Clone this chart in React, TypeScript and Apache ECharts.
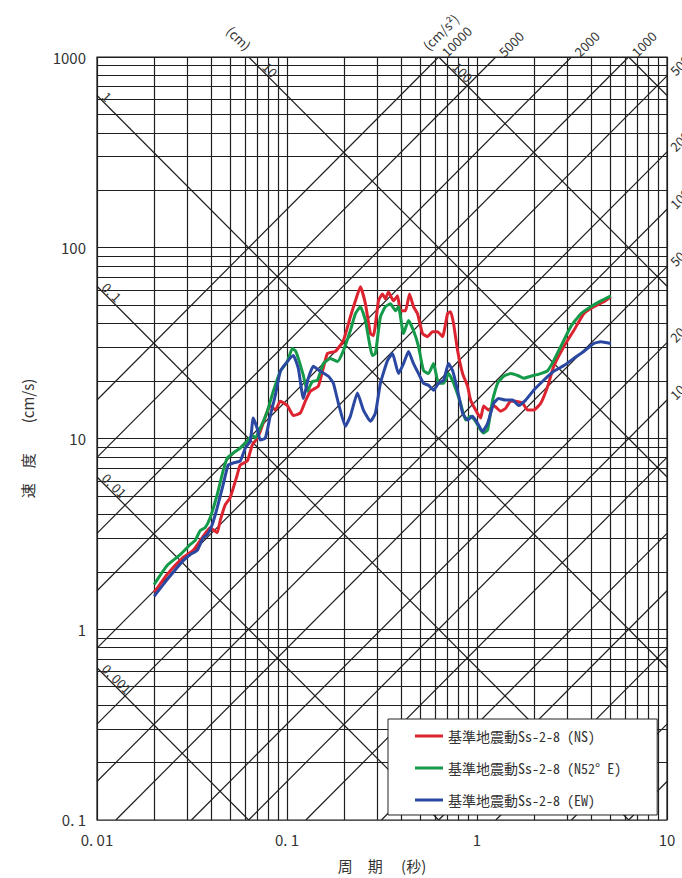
import React, { useEffect, useRef } from 'react';
import * as echarts from 'echarts';

// ---- data (period [s], pseudo velocity [cm/s]) ----
const seriesNames = ['基準地震動Ss-2-8 (NS)', '基準地震動Ss-2-8 (N52° E)', '基準地震動Ss-2-8 (EW)'];
const seriesColors = ['#dc2430', '#159a4a', '#2a48a2'];

const nsData: number[][] = [
  [0.02, 1.56], [0.0234, 1.94], [0.0284, 2.38], [0.0321, 2.59], [0.0358, 3.02], [0.0394, 3.41], [0.0429, 3.21],
  [0.0445, 3.71], [0.0473, 4.49], [0.0502, 4.89], [0.0547, 6.44], [0.0567, 7.26], [0.0618, 7.62], [0.0656, 9.24],
  [0.0697, 10.05], [0.0723, 10.9], [0.0788, 13.9], [0.0817, 14.9], [0.0868, 14.1], [0.0922, 15.7], [0.1004, 14.9],
  [0.108, 13.2], [0.1175, 13.6], [0.1249, 15.7], [0.1327, 17.7], [0.1462, 18.8], [0.1631, 27.9], [0.1797, 28.6],
  [0.1981, 32.6], [0.2156, 43.5], [0.2291, 52.7], [0.2434, 62.4], [0.2587, 50.8], [0.2748, 35.5], [0.285, 34.6],
  [0.3029, 52.7], [0.3179, 57.3], [0.3297, 54.0], [0.342, 58.7], [0.3635, 52.7], [0.3815, 56.0], [0.3957, 46.7],
  [0.4204, 46.7], [0.4413, 57.3], [0.4632, 49.1], [0.4864, 45.1], [0.5167, 35.5], [0.549, 34.2], [0.5833, 36.3],
  [0.6198, 36.3], [0.6586, 34.2], [0.6998, 45.1], [0.7259, 46.2], [0.7529, 40.0], [0.7903, 28.9], [0.8398, 21.9],
  [0.8922, 18.8], [0.9253, 15.9], [0.9832, 14.1], [1.0447, 12.8], [1.0834, 14.8], [1.1512, 14.1], [1.2233, 14.9],
  [1.332, 13.9], [1.4154, 14.4], [1.5035, 15.7], [1.5977, 15.7], [1.7393, 15.3], [1.8482, 14.1], [1.988, 14.1],
  [2.1642, 15.3], [2.3562, 18.8], [2.5336, 23.9], [2.8618, 30.3], [3.231, 36.8], [3.6472, 45.1], [4.119, 49.1],
  [4.65, 52.1], [5.062, 55.3],
];

const n52eData: number[][] = [
  [0.02, 1.72], [0.0234, 2.16], [0.0274, 2.46], [0.0309, 2.78], [0.0329, 2.92], [0.0349, 3.29], [0.0371, 3.41],
  [0.0394, 3.84], [0.0429, 5.07], [0.0461, 6.76], [0.0485, 7.9], [0.0521, 8.39], [0.0567, 8.91], [0.0618, 9.69],
  [0.0656, 10.4], [0.0681, 10.05], [0.0723, 11.3], [0.0788, 13.9], [0.0847, 17.7], [0.0922, 22.5], [0.1004, 25.3],
  [0.1066, 29.6], [0.1106, 28.9], [0.1147, 26.3], [0.1219, 21.4], [0.128, 17.7], [0.1359, 19.9], [0.1445, 20.2],
  [0.1554, 24.7], [0.1691, 26.3], [0.1842, 25.3], [0.1981, 28.9], [0.2156, 36.8], [0.2291, 45.1], [0.2434, 49.1],
  [0.2587, 41.5], [0.2816, 27.2], [0.292, 27.9], [0.3103, 43.5], [0.3297, 49.1], [0.3504, 50.8], [0.3724, 46.7],
  [0.3862, 49.1], [0.4104, 35.5], [0.436, 41.5], [0.4632, 36.8], [0.4923, 30.3], [0.523, 22.7], [0.5557, 21.9],
  [0.5904, 24.7], [0.6274, 19.5], [0.6668, 19.5], [0.7084, 21.9], [0.7529, 19.5], [0.8196, 15.3], [0.871, 12.5],
  [0.9253, 13.1], [0.9832, 12.3], [1.0447, 11.1], [1.0834, 10.7], [1.1374, 11.1], [1.2085, 15.9], [1.2844, 19.5],
  [1.3813, 21.2], [1.5035, 21.9], [1.6368, 21.4], [1.7606, 20.7], [1.917, 21.2], [2.1642, 21.9], [2.3562, 22.7],
  [2.5336, 25.6], [2.7594, 30.3], [3.1152, 38.6], [3.5169, 45.1], [3.972, 49.1], [4.484, 52.7], [5.062, 56.0],
];

const ewData: number[][] = [
  [0.02, 1.49], [0.0234, 1.82], [0.0284, 2.29], [0.0309, 2.46], [0.0337, 2.59], [0.0362, 3.02], [0.038, 3.13],
  [0.0404, 3.53], [0.0429, 4.33], [0.0461, 5.71], [0.049, 7.26], [0.0521, 7.44], [0.0567, 7.62], [0.0603, 8.91],
  [0.0641, 9.69], [0.0664, 12.8], [0.0697, 11.3], [0.0723, 9.81], [0.0769, 10.05], [0.0817, 13.2], [0.0868, 16.8],
  [0.0922, 22.5], [0.1004, 25.3], [0.108, 27.2], [0.1147, 23.3], [0.1219, 16.2], [0.1295, 20.7], [0.1376, 23.9],
  [0.1498, 22.5], [0.1651, 21.2], [0.1754, 19.5], [0.1864, 15.3], [0.2029, 11.6], [0.2156, 13.1], [0.2348, 17.3],
  [0.2525, 14.1], [0.2748, 12.3], [0.292, 13.6], [0.3103, 19.5], [0.3378, 25.6], [0.3591, 27.9], [0.3862, 21.9],
  [0.4104, 24.7], [0.436, 28.6], [0.4632, 24.7], [0.4923, 21.9], [0.523, 19.5], [0.5557, 19.0], [0.5904, 17.9],
  [0.6274, 19.5], [0.6668, 20.2], [0.7084, 24.7], [0.7438, 22.7], [0.7903, 17.9], [0.8398, 13.6], [0.8922, 12.5],
  [0.948, 13.1], [1.0073, 12.0], [1.0703, 10.9], [1.1374, 12.0], [1.2233, 15.3], [1.3, 16.2], [1.4154, 15.9],
  [1.5406, 15.9], [1.6569, 14.9], [1.8039, 15.9], [1.988, 17.9], [2.2445, 20.2], [2.5336, 22.5], [2.8618, 24.1],
  [3.231, 26.3], [3.6472, 28.6], [4.119, 31.5], [4.484, 32.2], [5.062, 31.5],
];

// ---- axes / tripartite grid definitions ----
const periodMin = 0.01;
const periodMax = 10;
const velMin = 0.1;
const velMax = 1000;
const xTickValues = [0.01, 0.1, 1, 10];
const xTickLabels = ['0. 01', '0. 1', '1', '10'];
const yTickValues = [0.1, 1, 10, 100, 1000];
const yTickLabels = ['0. 1', '1', '10', '100', '1000'];
const displacementValues = [0.001, 0.01, 0.1, 1, 10, 100, 1000]; // cm
const displacementLeftLabels = [1, 0.1, 0.01, 0.001];
const displacementLeftTexts = ['1', '0. 1', '0. 01', '0. 001'];
const displacementTopLabels = [10, 100];
const accelerationValues = [0.1, 0.2, 0.5, 1, 2, 5, 10, 20, 50, 100, 200, 500, 1000, 2000, 5000, 10000]; // cm/s2
const accelerationTopLabels = [10000, 5000, 2000, 1000];
const accelerationRightLabels = [500, 200, 100, 50, 20, 10];

const FONT = '"Noto Sans CJK JP", "Noto Sans", sans-serif';
const MONO = '"Noto Sans Mono CJK JP", "Noto Sans CJK JP", monospace';
const TWO_PI = 2 * Math.PI;
const GRID_COLOR = '#1f1f1f';

function decadeGrid(min: number, max: number): number[] {
  const out: number[] = [];
  for (let e = Math.round(Math.log10(min)); e < Math.round(Math.log10(max)); e++) {
    for (let k = 1; k <= 9; k++) out.push(Number((k * Math.pow(10, e)).toPrecision(6)));
  }
  out.push(max);
  return out;
}

function buildGridLines() {
  const data: any[] = [];
  decadeGrid(periodMin, periodMax).forEach((t) => data.push({ coords: [[t, velMin], [t, velMax]] }));
  decadeGrid(velMin, velMax).forEach((v) => data.push({ coords: [[periodMin, v], [periodMax, v]] }));
  // constant displacement: V = 2*pi*D / T
  displacementValues.forEach((d) => {
    const t1 = Math.max(periodMin, (TWO_PI * d) / velMax);
    const t2 = Math.min(periodMax, (TWO_PI * d) / velMin);
    if (t1 < t2) data.push({ coords: [[t1, (TWO_PI * d) / t1], [t2, (TWO_PI * d) / t2]] });
  });
  // constant acceleration: V = A * T / (2*pi)
  accelerationValues.forEach((a) => {
    const t1 = Math.max(periodMin, (velMin * TWO_PI) / a);
    const t2 = Math.min(periodMax, (velMax * TWO_PI) / a);
    if (t1 < t2) data.push({ coords: [[t1, (a * t1) / TWO_PI], [t2, (a * t2) / TWO_PI]] });
  });
  return data;
}

function tickLabel(values: number[], labels: string[]) {
  return (v: number) => {
    const i = values.findIndex((x) => Math.abs(Math.log10(x) - Math.log10(v)) < 1e-6);
    return i >= 0 ? labels[i] : '';
  };
}

export default function App() {
  const ref = useRef<HTMLDivElement>(null);

  useEffect(() => {
    if (!ref.current) return;
    const chart = echarts.init(ref.current, null, { renderer: 'svg' });
    const datasets = [nsData, n52eData, ewData];

    chart.setOption({
      animation: false,
      backgroundColor: '#ffffff',
      grid: {
        left: 97, top: 57, width: 570, height: 765,
        show: true, borderColor: '#1a1a1a', borderWidth: 1.2, backgroundColor: 'transparent',
      },
      legend: {
        orient: 'vertical',
        left: 388,
        top: 719,
        padding: [10, 36, 8, 27],
        itemGap: 18,
        itemWidth: 28,
        itemHeight: 3,
        icon: 'rect',
        backgroundColor: '#ffffff',
        borderColor: '#222',
        borderWidth: 1,
        z: 20,
        data: seriesNames,
        textStyle: { fontFamily: MONO, fontSize: 14, color: '#333' },
      },
      xAxis: {
        type: 'log', logBase: 10, min: periodMin, max: periodMax,
        axisLine: { show: false }, axisTick: { show: false }, splitLine: { show: false },
        axisLabel: {
          formatter: tickLabel(xTickValues, xTickLabels),
          margin: 12, fontSize: 15, color: '#333', fontFamily: FONT,
        },
        name: '周　期　 (秒)',
        nameLocation: 'middle',
        nameGap: 38,
        nameTextStyle: { fontSize: 15, color: '#333', fontFamily: FONT },
      },
      yAxis: {
        type: 'log', logBase: 10, min: velMin, max: velMax,
        axisLine: { show: false }, axisTick: { show: false }, splitLine: { show: false },
        axisLabel: {
          formatter: tickLabel(yTickValues, yTickLabels),
          margin: 11, fontSize: 15, color: '#333', fontFamily: FONT,
        },
        name: '速　度　　(cm/s)',
        nameLocation: 'middle',
        nameRotate: 90,
        nameGap: 62,
        nameTextStyle: { fontSize: 15, color: '#333', fontFamily: FONT },
      },
      series: [
        {
          type: 'lines',
          coordinateSystem: 'cartesian2d',
          silent: true,
          z: 1,
          lineStyle: { color: GRID_COLOR, width: 1.2, opacity: 1 },
          data: buildGridLines(),
        },
        ...datasets.map((d, i) => ({
          type: 'line',
          name: seriesNames[i],
          data: d,
          color: seriesColors[i],
          showSymbol: false,
          symbol: 'none',
          smooth: 0.15,
          z: 5 + i,
          lineStyle: { color: seriesColors[i], width: 3 },
        })),
      ],
    });

    const px = (t: number, v: number) => chart.convertToPixel({ gridIndex: 0 }, [t, v]) as number[];
    const labelStyle = { fill: '#333', fontSize: 13, fontFamily: FONT };
    const graphics: any[] = [];

    displacementLeftLabels.forEach((d, i) => {
      const p = px(periodMin, (TWO_PI * d) / periodMin);
      graphics.push({
        type: 'text', x: p[0] + 3, y: p[1] + 3, rotation: -Math.PI / 4, silent: true, z: 10,
        style: { ...labelStyle, text: displacementLeftTexts[i], align: 'left', verticalAlign: 'bottom' },
      });
    });
    displacementTopLabels.forEach((d) => {
      const p = px((TWO_PI * d) / velMax, velMax);
      graphics.push({
        type: 'text', x: p[0] + 12, y: p[1] + 12, rotation: -Math.PI / 4, silent: true, z: 10,
        style: { ...labelStyle, text: String(d), align: 'left', verticalAlign: 'bottom' },
      });
    });
    {
      const p = px((TWO_PI * 10) / velMax, velMax);
      graphics.push({
        type: 'text', x: p[0] - 24, y: p[1] - 24, rotation: -Math.PI / 4, silent: true, z: 10,
        style: { ...labelStyle, text: '(cm)', align: 'left', verticalAlign: 'bottom' },
      });
    }
    accelerationTopLabels.forEach((a) => {
      const p = px((velMax * TWO_PI) / a, velMax);
      graphics.push({
        type: 'text', x: p[0] + 5, y: p[1] - 3, rotation: Math.PI / 4, silent: true, z: 10,
        style: { ...labelStyle, text: String(a), align: 'left', verticalAlign: 'middle' },
      });
    });
    {
      const p = px((velMax * TWO_PI) / 10000, velMax);
      graphics.push({
        type: 'text', x: p[0] + 2, y: p[1] - 25, rotation: Math.PI / 4, silent: true, z: 10,
        style: { ...labelStyle, text: '(cm/s²)', align: 'center', verticalAlign: 'middle' },
      });
    }
    accelerationRightLabels.forEach((a) => {
      const p = px(periodMax, (a * periodMax) / TWO_PI);
      graphics.push({
        type: 'text', x: p[0] + 5, y: p[1] - 3, rotation: Math.PI / 4, silent: true, z: 10,
        style: { ...labelStyle, text: String(a), align: 'left', verticalAlign: 'middle' },
      });
    });

    chart.setOption({ graphic: graphics });

    return () => chart.dispose();
  }, []);

  return (
    <div
      ref={ref}
      style={{ position: 'absolute', left: 0, top: 0, width: 682, height: 878, background: '#ffffff' }}
    />
  );
}
